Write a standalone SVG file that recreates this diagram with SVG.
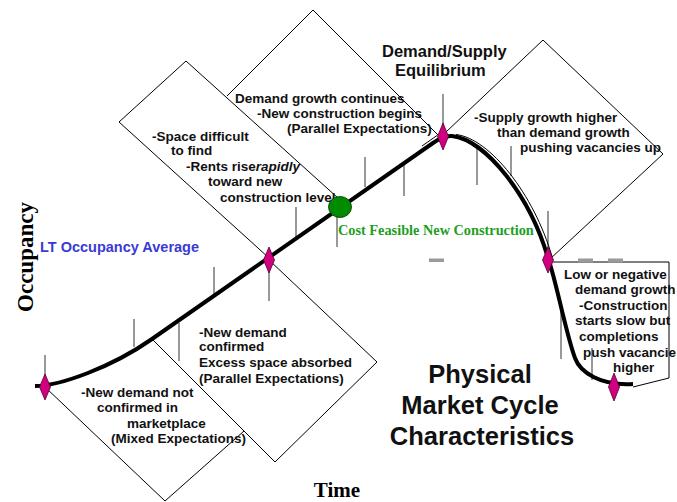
<svg xmlns="http://www.w3.org/2000/svg" width="677" height="502" viewBox="0 0 677 502">
<style>
.edge{fill:none;stroke:#000;stroke-width:1}
.tick{stroke:#333;stroke-width:1}
.t{font-family:"Liberation Sans",Arial,sans-serif;font-weight:bold;font-size:13.5px;fill:#111}
.dia{fill:#D10080;stroke:#50002f;stroke-width:0.8}
.serif{font-family:"Liberation Serif","Times New Roman",serif;font-weight:bold}
.big{font-family:"Liberation Sans",Arial,sans-serif;font-weight:bold;fill:#111}
.dash{fill:#9a9a9a}
</style>
<rect width="677" height="502" fill="#fff"/>

<g id="box-demand-growth">
<polyline class="edge" points="227,96 313,10 440,137"/>
<text class="t" x="235" y="103">Demand growth continues</text>
<text class="t" x="257" y="117.5">-New construction begins</text>
<text class="t" x="287" y="132.5">(Parallel Expectations)</text>
</g>

<g id="box-space-difficult">
<polyline class="edge" points="269,258 119,122 186,61 338,198"/>
<text class="t" x="152" y="140.5">-Space difficult</text>
<text class="t" x="171" y="155">to find</text>
<text class="t" x="186" y="170.5">-Rents rise<tspan font-style="italic">rapidly</tspan></text>
<text class="t" x="208" y="186">toward new</text>
<text class="t" x="220" y="201.5">construction level</text>
</g>

<g id="box-supply-growth">
<polyline class="edge" points="446,132 543,40 663,154 550,259"/>
<text class="t" x="474" y="121.5">-Supply growth higher</text>
<text class="t" x="497" y="136.5">than demand growth</text>
<text class="t" x="520" y="151.5">pushing vacancies up</text>
</g>

<g id="box-low-demand">
<polyline class="edge" points="553,262 669,262 669,378 633,387"/>
<text class="t" x="564" y="278.5">Low or negative</text>
<text class="t" x="575" y="294">demand growth</text>
<text class="t" x="579" y="309.5">-Construction</text>
<text class="t" x="575" y="325">starts slow but</text>
<text class="t" x="579" y="341">completions</text>
<text class="t" x="583" y="356.5">push vacancie</text>
<text class="t" x="613" y="372">higher</text>
</g>

<g id="box-new-demand-not-confirmed">
<polyline class="edge" points="45,387 165,501 244,431"/>
<text class="t" x="81" y="396.5">-New demand not</text>
<text class="t" x="97" y="411.5">confirmed in</text>
<text class="t" x="127" y="427.5">marketplace</text>
<text class="t" x="111" y="443">(Mixed Expectations)</text>
</g>

<g id="box-new-demand-confirmed">
<polyline class="edge" points="152,339 275,462 377,362 269,260"/>
<text class="t" x="199" y="336.5">-New demand</text>
<text class="t" x="199" y="351">confirmed</text>
<text class="t" x="199" y="367">Excess space absorbed</text>
<text class="t" x="199" y="382.5">(Parallel Expectations)</text>
</g>

<g id="markers-grey">
<rect class="dash" x="429" y="258.5" width="15" height="3.5"/>
<rect class="dash" x="578" y="258.5" width="15" height="4"/>
<rect class="dash" x="608" y="258.5" width="15" height="4"/>
</g>

<g id="ticks">
<line class="tick" x1="45" y1="355" x2="45" y2="380"/>
<line class="tick" x1="134" y1="319" x2="134" y2="347"/>
<line class="tick" x1="179" y1="323" x2="179" y2="361"/>
<line class="tick" x1="214" y1="267" x2="214" y2="295"/>
<line class="tick" x1="269" y1="265" x2="269" y2="301"/>
<line class="tick" x1="296" y1="207" x2="296" y2="238"/>
<line class="tick" x1="337" y1="215" x2="337" y2="247"/>
<line class="tick" x1="365" y1="157" x2="365" y2="187"/>
<line class="tick" x1="404" y1="165" x2="404" y2="196"/>
<line class="tick" x1="443" y1="94" x2="443" y2="130"/>
<line class="tick" x1="477" y1="148" x2="477" y2="185"/>
<line class="tick" x1="511" y1="146" x2="511" y2="176"/>
<line class="tick" x1="548" y1="211" x2="548" y2="255"/>
<line class="tick" x1="561" y1="307" x2="561" y2="359"/>
<line class="tick" x1="592" y1="348" x2="592" y2="380"/>
</g>

<g id="connectors">
<path d="M452,136 C486,140 530,196 548,258" fill="none" stroke="#000" stroke-width="1" transform="translate(4,-1.5)"/>
<line x1="422" y1="146" x2="437" y2="135.5" stroke="#000" stroke-width="1"/>
<path id="cycle-curve" d="M35,386 C60,386 112,367 152,339 L433,143 C440,138 446,135.5 452,136 C486,140 530,196 548,258 C556,280 566,334 575,358 C580,372 600,386 633,384" fill="none" stroke="#000" stroke-width="4" stroke-linejoin="round"/>
</g>

<g id="diamonds">
<polygon class="dia" points="45,374 50.5,387 45,400 39.5,387"/>
<polygon class="dia" points="269,247 274.5,260 269,273 263.5,260"/>
<polygon class="dia" points="443,123 448.5,136.5 443,150 437.5,136.5"/>
<polygon class="dia" points="548,247 553.5,260 548,273 542.5,260"/>
<polygon class="dia" points="614,373 619.5,387 614,401 608.5,387"/>
</g>

<g id="cost-feasible-node">
<ellipse cx="340" cy="207" rx="11.5" ry="10.5" fill="#008c00" stroke="#003300" stroke-width="0.8"/>
<text class="serif" x="338" y="235" font-size="14.3" fill="#1e9e1e">Cost Feasible New Construction</text>
</g>

<g id="labels">
<text class="big" x="382" y="57" font-size="16.5">Demand/Supply</text>
<text class="big" x="395" y="76" font-size="16.5">Equilibrium</text>
<text class="big" x="40" y="252" font-size="14.5" style="fill:#3a3ad6">LT Occupancy Average</text>
<text class="big" x="480" y="383" font-size="25.5" text-anchor="middle">Physical</text>
<text class="big" x="480" y="414" font-size="25.5" text-anchor="middle">Market Cycle</text>
<text class="big" x="482" y="445" font-size="25.5" text-anchor="middle">Characteristics</text>
<text class="serif" x="337" y="497" font-size="21" text-anchor="middle" fill="#000">Time</text>
<text class="serif" x="0" y="0" font-size="23" text-anchor="middle" fill="#000" transform="translate(33,257) rotate(-90)">Occupancy</text>
</g>
</svg>
